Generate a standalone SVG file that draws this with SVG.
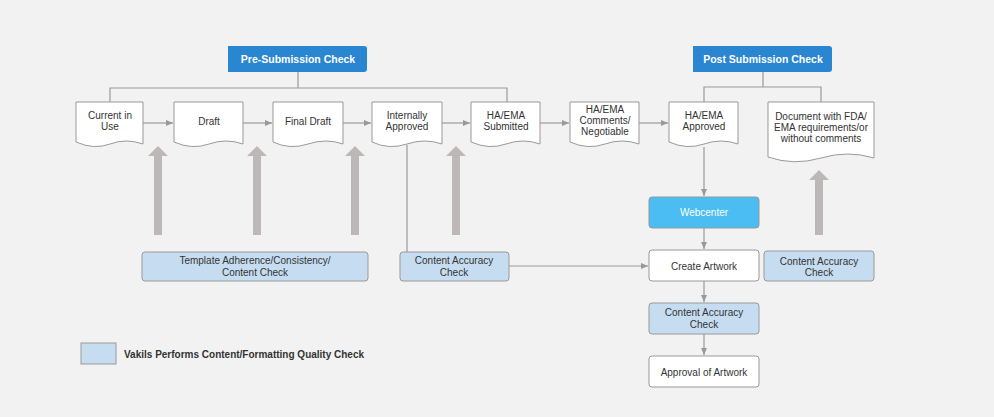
<svg xmlns="http://www.w3.org/2000/svg" width="994" height="417" viewBox="0 0 994 417">
<style>
text{font-family:"Liberation Sans",Arial,sans-serif;font-size:10px;fill:#333;text-anchor:middle}
.doc{fill:#fff;stroke:#999;stroke-width:1}
.hdr{fill:#2a86d0}
.hdr text,.ht{fill:#fff;font-weight:bold;font-size:10.5px}
.blue{fill:#c6ddf1;stroke:#999}
.wht{fill:#fff;stroke:#999}
.ln{stroke:#999;fill:none;stroke-width:1.2}
.big{fill:#bdb8b8}
</style>
<defs>
<marker id="ah" markerWidth="8" markerHeight="8" refX="7" refY="4" orient="auto" markerUnits="userSpaceOnUse"><path d="M0,1 L7,4 L0,7z" fill="#999"/></marker>
</defs>
<rect width="994" height="417" fill="#f2f2f2"/>
<g id="connectors">
<path class="ln" d="M298,72V88M110,102V88H507V102"/>
<path class="ln" d="M763,72V87M704,102V87H821V102"/>
<path class="ln" marker-end="url(#ah)" d="M143,123H173"/>
<path class="ln" marker-end="url(#ah)" d="M243,123H272"/>
<path class="ln" marker-end="url(#ah)" d="M343,123H371"/>
<path class="ln" marker-end="url(#ah)" d="M442,123H470"/>
<path class="ln" marker-end="url(#ah)" d="M540,123H569"/>
<path class="ln" marker-end="url(#ah)" d="M639,123H668"/>
<path class="ln" d="M407,145V252"/>
<path class="ln" marker-end="url(#ah)" d="M509,266H648"/>
<path class="ln" marker-end="url(#ah)" d="M704,147V196"/>
<path class="ln" marker-end="url(#ah)" d="M704,228V249"/>
<path class="ln" marker-end="url(#ah)" d="M704,281V302"/>
<path class="ln" marker-end="url(#ah)" d="M704,334V355"/>
<path class="big" d="M154,235V156H148L158,146L168,156H162V235Z"/>
<path class="big" d="M253,235V156H247L257,146L267,156H261V235Z"/>
<path class="big" d="M351,235V156H345L355,146L365,156H359V235Z"/>
<path class="big" d="M452,235V156H446L456,146L466,156H460V235Z"/>
<path class="big" d="M815,235V180H809L819,170L829,180H823V235Z"/>
</g>
<g id="pre"><path class="hdr" d="M228,46H364Q367,46 367,49V69Q367,72 364,72H228Z"/><text class="ht" x="298" y="63">Pre-Submission Check</text></g>
<g id="post"><path class="hdr" d="M693,46H829Q832,46 832,49V69Q832,72 829,72H693Z"/><text class="ht" x="763" y="63">Post Submission Check</text></g>
<g id="n1"><path class="doc" d="M76,102H143V144Q126,138 110,144T76,142Z"/><text x="110" y="119">Current in</text><text x="110" y="130">Use</text></g>
<g id="n2"><path class="doc" d="M174,102H243V144Q226,138 209,144T174,142Z"/><text x="209" y="125">Draft</text></g>
<g id="n3"><path class="doc" d="M273,102H343V144Q326,138 308,144T273,142Z"/><text x="308" y="125">Final Draft</text></g>
<g id="n4"><path class="doc" d="M372,102H442V144Q425,138 407,144T372,142Z"/><text x="407" y="119">Internally</text><text x="407" y="130">Approved</text></g>
<g id="n5"><path class="doc" d="M471,102H540V144Q523,138 506,144T471,142Z"/><text x="506" y="119">HA/EMA</text><text x="506" y="130">Submitted</text></g>
<g id="n6"><path class="doc" d="M570,102H639V144Q622,138 605,144T570,142Z"/><text x="605" y="113">HA/EMA</text><text x="605" y="124">Comments/</text><text x="605" y="135">Negotiable</text></g>
<g id="n7"><path class="doc" d="M669,102H738V144Q721,138 704,144T669,142Z"/><text x="704" y="119">HA/EMA</text><text x="704" y="130">Approved</text></g>
<g id="n8"><path class="doc" d="M768,102H874V158Q848,150 821,158T768,157Z"/><text x="821" y="120">Document with FDA/</text><text x="821" y="131">EMA requirements/or</text><text x="821" y="142">without comments</text></g>
<g id="tmpl"><rect class="blue" x="142" y="252" width="226" height="29" rx="3"/><text x="255" y="264">Template Adherence/Consistency/</text><text x="255" y="276">Content Check</text></g>
<g id="cac1"><rect class="blue" x="400" y="252" width="109" height="29" rx="3"/><text x="454" y="264">Content Accuracy</text><text x="454" y="276">Check</text></g>
<g id="web"><rect x="649" y="197" width="110" height="31" rx="3" fill="#4bbdf2" stroke="#999"/><text x="704" y="216" style="fill:#fff">Webcenter</text></g>
<g id="create"><rect class="wht" x="649" y="250" width="110" height="31" rx="3"/><text x="704" y="270">Create Artwork</text></g>
<g id="cac2"><rect class="blue" x="649" y="303" width="110" height="31" rx="3"/><text x="704" y="316">Content Accuracy</text><text x="704" y="328">Check</text></g>
<g id="approval"><rect class="wht" x="649" y="356" width="110" height="31" rx="3"/><text x="704" y="376">Approval of Artwork</text></g>
<g id="cac3"><rect class="blue" x="764" y="251" width="110" height="30" rx="3"/><text x="819" y="265">Content Accuracy</text><text x="819" y="276">Check</text></g>
<g id="legend"><rect class="blue" x="81" y="343" width="35" height="21"/><text x="124" y="358" style="text-anchor:start;font-weight:bold">Vakils Performs Content/Formatting Quality Check</text></g>
</svg>
